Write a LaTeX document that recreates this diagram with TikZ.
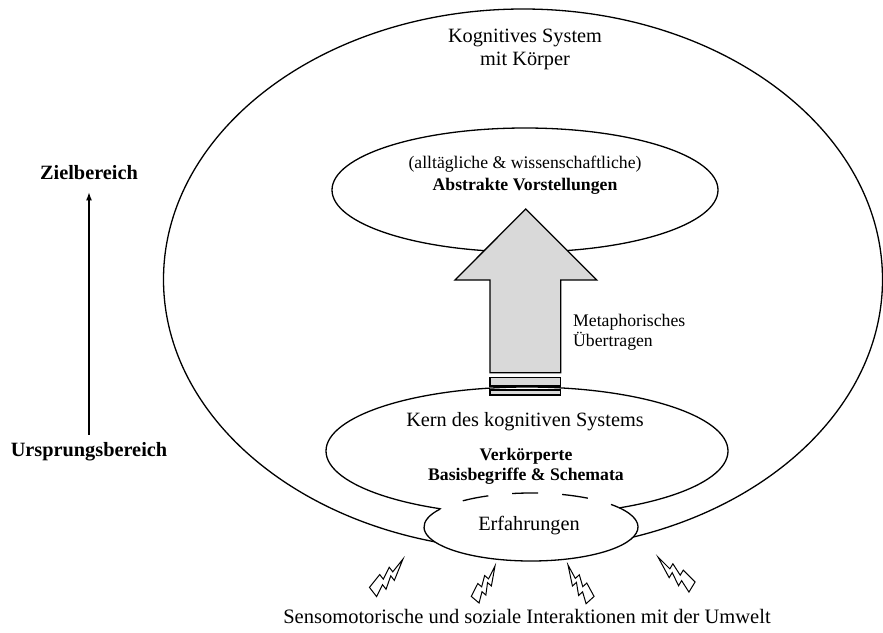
\documentclass[tikz,border=0pt]{standalone}
\usepackage{fontspec}
\setmainfont{Liberation Serif}
\usetikzlibrary{shapes.geometric,arrows.meta}
\tikzset{
  oval/.style={ellipse, draw, line width=1.3pt, inner sep=0pt},
  big/.style={font=\fontsize{20.3}{24}\selectfont, inner sep=0pt, anchor=base},
  bigb/.style={font=\fontsize{20.3}{24}\selectfont\bfseries, inner sep=0pt, anchor=base},
  small/.style={font=\fontsize{17.7}{21}\selectfont, inner sep=0pt, anchor=base},
  smallb/.style={font=\fontsize{17.7}{21}\selectfont\bfseries, inner sep=0pt, anchor=base},
  bigarrow/.style={line width=1.3pt, fill=gray!30, line join=miter},
  erfline/.style={line width=1.3pt},
  bolt/.pic={\draw[line width=1pt, fill=white, line join=miter]
     (1.7,38.5) -- (11.9,38.5) -- (6.8,28) -- (11.9,28) -- (5.1,17.5) -- (10.2,17.5)
     -- (0,0) -- (3.4,14) -- (-1.7,14) -- (3.4,24.5) -- (-1.7,24.5) -- cycle;}
}
\begin{document}
\begin{tikzpicture}[x=1pt,y=-1pt]
\useasboundingbox (0,0) rectangle (883,632);
% ellipses
\node[oval, minimum width=719, minimum height=541] (outer) at (523,279.5) {};
\node[oval, minimum width=386, minimum height=124] (top) at (525,190) {};
\node[oval, minimum width=402, minimum height=128] (kern) at (527,451) {};
% big arrow
\draw[bigarrow] (490,372.7) -- (490,280) -- (455,280) -- (525.7,209) -- (596.7,280)
  -- (560.7,280) -- (560.7,372.7) -- cycle;
\draw[bigarrow] (490,377.3) rectangle (560.7,386);
\draw[bigarrow] (490,390) rectangle (560.7,395);
% Erfahrungen ellipse
\node[ellipse, fill=white, minimum width=214, minimum height=68, inner sep=0pt] (erf) at (531,527) {};
\draw[erfline] ([shift={(-35:107 and 34)}]erf.center) arc[start angle=-35, end angle=212, x radius=107, y radius=34];
\draw[erfline, dash pattern=on 26pt off 24pt, dash phase=26pt] ([shift={(-148:107 and 34)}]erf.center) arc[start angle=-148, end angle=-35, x radius=107, y radius=34];
% texts
\node[big] (t1) at (525,42) {Kognitives System};
\node[big] (t2) at (525,65) {mit Körper};
\node[small] (a1) at (525,168.5) {(alltägliche \& wissenschaftliche)};
\node[smallb] (a2) at (525,190) {Abstrakte Vorstellungen};
\node[small, anchor=base west] (m1) at (573,326) {Metaphorisches};
\node[small, anchor=base west] (m2) at (573,346) {Übertragen};
\node[big] (k1) at (525,426.5) {Kern des kognitiven Systems};
\node[smallb] (k2) at (526,460) {Verkörperte};
\node[smallb] (k3) at (526,480.5) {Basisbegriffe \& Schemata};
\node[big] (e1) at (529,530.5) {Erfahrungen};
\node[bigb] (ziel) at (89,179.5) {Zielbereich};
\node[bigb] (urs) at (89,456.5) {Ursprungsbereich};
\draw[line width=1.1pt, -{Latex[length=8pt,width=6pt]}, shorten <=7.6pt, shorten >=12.5pt] (urs.north) -- (ziel.south);
\node[font=\fontsize{20.5}{24}\selectfont, inner sep=0pt, anchor=base] (bottom) at (527,623) {Sensomotorische und soziale Interaktionen mit der Umwelt};
% bolts
\pic[rotate=-52.3, scale=1.14] at (403,559) {bolt};
\pic[rotate=-40.5, scale=1.0] at (495,566) {bolt};
\pic[rotate=42.2, xscale=-1.06, yscale=1.06] at (568,565) {bolt};
\pic[rotate=58.6, xscale=-1.16, yscale=1.16] at (658,557) {bolt};
\end{tikzpicture}
\end{document}
